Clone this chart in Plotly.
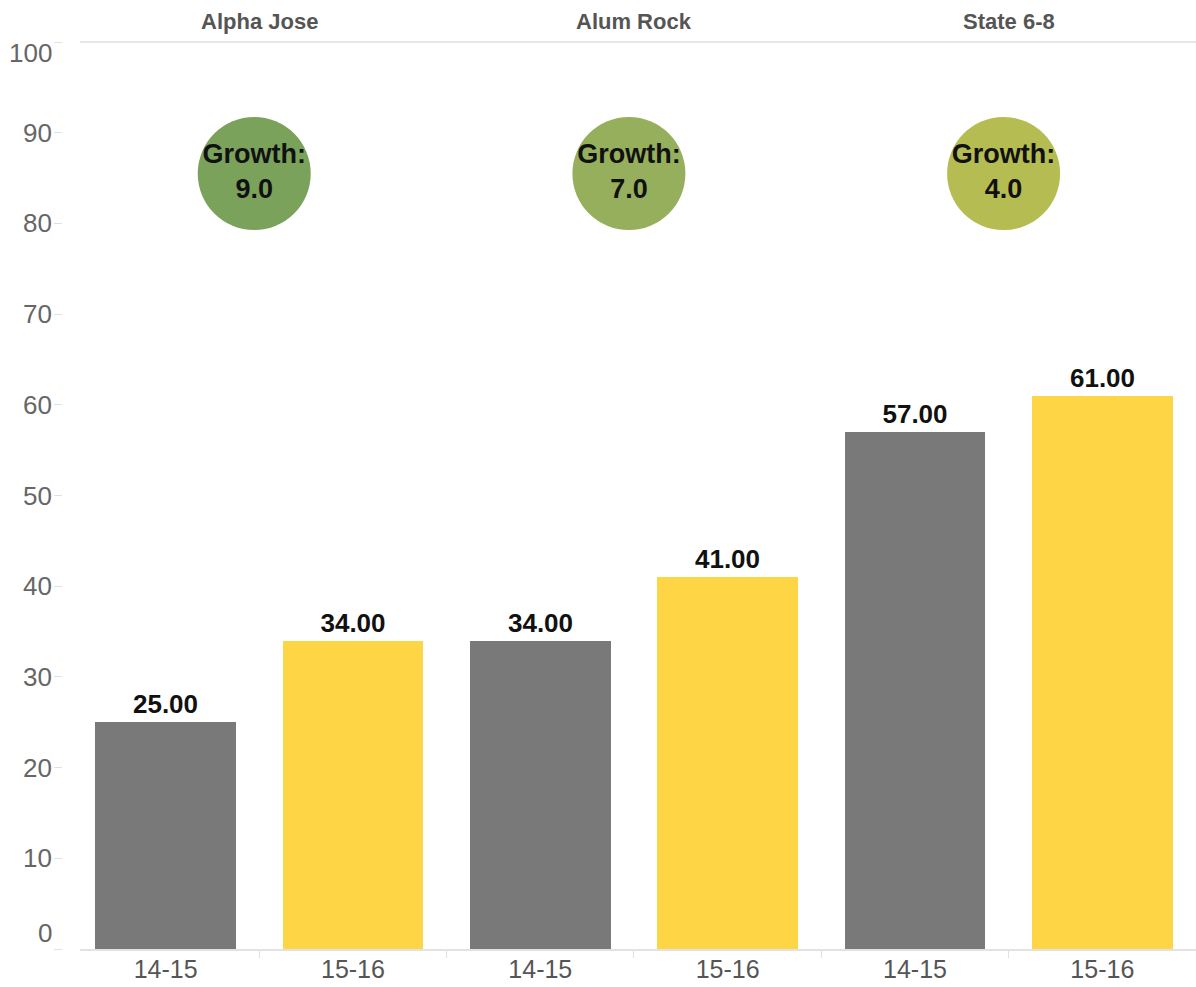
import plotly.graph_objects as go

# ---- data ----
groups = ["Alpha Jose", "Alum Rock", "State 6-8"]
years = ["14-15", "15-16"]
values_1415 = [25, 34, 57]
values_1516 = [34, 41, 61]
growth = [9.0, 7.0, 4.0]
y_ticks = [0, 10, 20, 30, 40, 50, 60, 70, 80, 90, 100]

# ---- styles ----
GRAY = "#797979"
YELLOW = "#FDD545"
circle_colors = ["#7BA25B", "#96AF5C", "#B5BC52"]
FONT = "Arial, 'Liberation Sans', sans-serif"
CIRCLE_Y = 85.5
CIRCLE_XOFF = -0.027

# build bar sequence
xs, ys, cols, xlabels = [], [], [], []
for i, g in enumerate(groups):
    for j, (yr, vals, c) in enumerate(zip(years, [values_1415, values_1516], [GRAY, YELLOW])):
        xs.append(2 * i + j)
        ys.append(vals[i])
        cols.append(c)
        xlabels.append(yr)

fig = go.Figure()
fig.add_trace(go.Bar(
    x=xs, y=ys, width=0.75,
    marker=dict(color=cols, line=dict(width=0)),
    text=[f"<b>{v:.2f}</b>" for v in ys],
    textposition="outside",
    textfont=dict(family=FONT, size=26, color="#111111"),
    cliponaxis=False,
    hoverinfo="skip",
))

group_centers = [2 * i + 0.5 for i in range(len(groups))]
fig.add_trace(go.Scatter(
    x=[gc + CIRCLE_XOFF for gc in group_centers], y=[CIRCLE_Y] * len(groups),
    mode="markers+text",
    marker=dict(size=113, color=circle_colors, line=dict(width=0)),
    text=[f"<b>Growth:<br>{g:.1f}</b>" for g in growth],
    textposition="middle center",
    textfont=dict(family=FONT, size=27, color="#111111"),
    cliponaxis=False,
    hoverinfo="skip",
))

# header titles
for gc, g in zip(group_centers, groups):
    fig.add_annotation(x=gc, xref="x", y=1, yref="paper", yanchor="bottom", yshift=6,
                       text=f"<b>{g}</b>", showarrow=False,
                       font=dict(family=FONT, size=22, color="#555555"))

# y tick labels (0 and 100 shifted inward as in the reference)
for v in y_ticks:
    shift = 0
    if v == 0:
        shift = 16
    elif v == 100:
        shift = -11
    fig.add_annotation(x=0, xref="paper", y=v, yref="y", xanchor="right", yanchor="middle",
                       xshift=-8, yshift=shift, text=str(v), showarrow=False,
                       font=dict(family=FONT, size=26, color="#666666"))

# header separator line
fig.add_shape(type="line", xref="x domain", yref="y domain", x0=0, x1=1, y0=1, y1=1,
              line=dict(color="#E6E6E6", width=2))

fig.update_layout(
    width=1196, height=987,
    margin=dict(l=62, r=0, t=42, b=38),
    paper_bgcolor="white", plot_bgcolor="white",
    showlegend=False,
    xaxis=dict(
        domain=[18 / 1134, 1],
        range=[-0.457, 5.5],
        tickmode="array", tickvals=xs, ticktext=xlabels,
        ticks="", showgrid=False, zeroline=False,
        showline=True, linecolor="#E2E2E2", linewidth=2,
        tickfont=dict(family=FONT, size=25, color="#555555"),
        ticklabelstandoff=-3,
        minor=dict(tickmode="linear", tick0=0.5, dtick=1, ticks="outside",
                   ticklen=7, tickcolor="#E0E0E0", tickwidth=1, showgrid=False),
        fixedrange=True,
    ),
    yaxis=dict(
        range=[0, 100],
        anchor="free", position=0,
        tickmode="array", tickvals=y_ticks,
        showticklabels=False,
        ticks="outside", ticklen=8, tickcolor="#E0E0E0", tickwidth=1,
        showgrid=False, zeroline=False, showline=False,
        fixedrange=True,
    ),
    bargap=0,
)

fig.write_html("out.html", config={"displayModeBar": False},
               post_script="document.body.style.margin='0';document.body.style.overflow='hidden';")
